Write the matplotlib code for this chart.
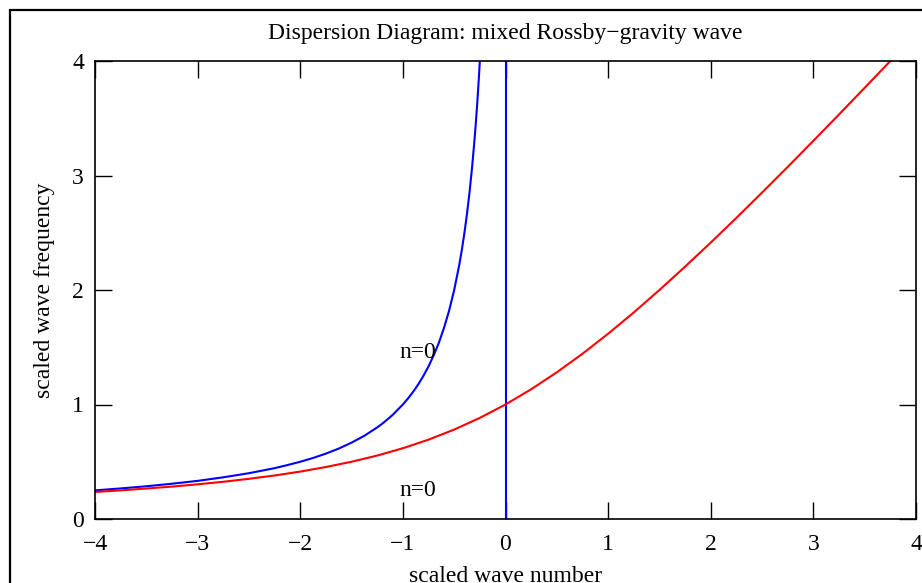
import matplotlib
matplotlib.use("Agg")
import matplotlib.pyplot as plt
from matplotlib.patches import Rectangle

# scaled wave number k and frequency
k_red = [-4.0, -3.75, -3.5, -3.25, -3.0, -2.75, -2.5, -2.25, -2.0, -1.75, -1.5,
         -1.25, -1.0, -0.75, -0.5, -0.25, 0.0, 0.25, 0.5, 0.75, 1.0, 1.25, 1.5,
         1.75, 2.0, 2.25, 2.5, 2.75, 3.0, 3.25, 3.5, 3.75]
w_red = [0.236, 0.25, 0.266, 0.283, 0.303, 0.325, 0.351, 0.38, 0.414, 0.454, 0.5,
         0.554, 0.618, 0.693, 0.781, 0.883, 1.0, 1.133, 1.281, 1.443, 1.618, 1.804,
         2.0, 2.204, 2.414, 2.63, 2.851, 3.075, 3.303, 3.533, 3.766, 4.0]

k_blue = [-4.0, -3.75, -3.5, -3.25, -3.0, -2.75, -2.5, -2.25, -2.125, -2.0,
          -1.875, -1.75, -1.625, -1.5, -1.375, -1.25, -1.2, -1.125, -1.1, -1.0,
          -0.95, -0.9, -0.85, -0.8, -0.75, -0.7, -0.65, -0.6, -0.55, -0.5, -0.45,
          -0.425, -0.4, -0.375, -0.35, -0.325, -0.3, -0.29, -0.275, -0.26, -0.25]
w_blue = [0.25, 0.267, 0.286, 0.308, 0.333, 0.364, 0.4, 0.444, 0.471, 0.5,
          0.533, 0.571, 0.615, 0.667, 0.727, 0.8, 0.833, 0.889, 0.909, 1.0,
          1.053, 1.111, 1.176, 1.25, 1.333, 1.429, 1.538, 1.667, 1.818, 2.0, 2.222,
          2.353, 2.5, 2.667, 2.857, 3.077, 3.333, 3.448, 3.636, 3.846, 4.0]

# vertical line at k = 0
k_vert = [0.0, 0.0]
w_vert = [0.0, 4.0]

labels = ["n=0", "n=0"]
label_pos = [(-1.03, 1.45), (-1.03, 0.25)]

plt.rcParams["font.family"] = ["Liberation Serif", "DejaVu Serif"]
plt.rcParams["font.size"] = 17

fig = plt.figure(figsize=(9.22, 5.83), dpi=100)
ax = fig.add_axes([95 / 922, 1 - 519 / 583, 821 / 922, 458 / 583])

ax.plot(k_blue, w_blue, color="#0000ff", lw=1.5)
ax.plot(k_vert, w_vert, color="#0000ff", lw=1.5)
ax.plot(k_red, w_red, color="#ff0000", lw=1.5)

for txt, (x, y) in zip(labels, label_pos):
    ax.text(x, y, txt, ha="left", va="center", fontsize=17)

ax.set_xlim(-4, 4)
ax.set_ylim(0, 4)
ax.set_xticks(range(-4, 5))
ax.set_yticks(range(0, 5))
ax.tick_params(axis="x", direction="in", length=12, width=1, top=True, pad=11)
ax.tick_params(axis="y", direction="in", length=12, width=1, right=True, pad=8)
for sp in ax.spines.values():
    sp.set_linewidth(1.2)

ax.set_xlabel("scaled wave number", labelpad=8)
ax.set_ylabel("scaled wave frequency", labelpad=12)
fig.text(505 / 922, 1 - 33 / 583, "Dispersion Diagram: mixed Rossby\u2212gravity wave",
         ha="center", va="center", fontsize=17)

# outer frame round the whole plot
fig.patches.append(Rectangle((10 / 922, -0.1), 1.2, 1 - 10 / 583 + 0.1,
                             transform=fig.transFigure, fill=False,
                             edgecolor="black", lw=1.6))

fig.savefig("out.png", dpi=100)
